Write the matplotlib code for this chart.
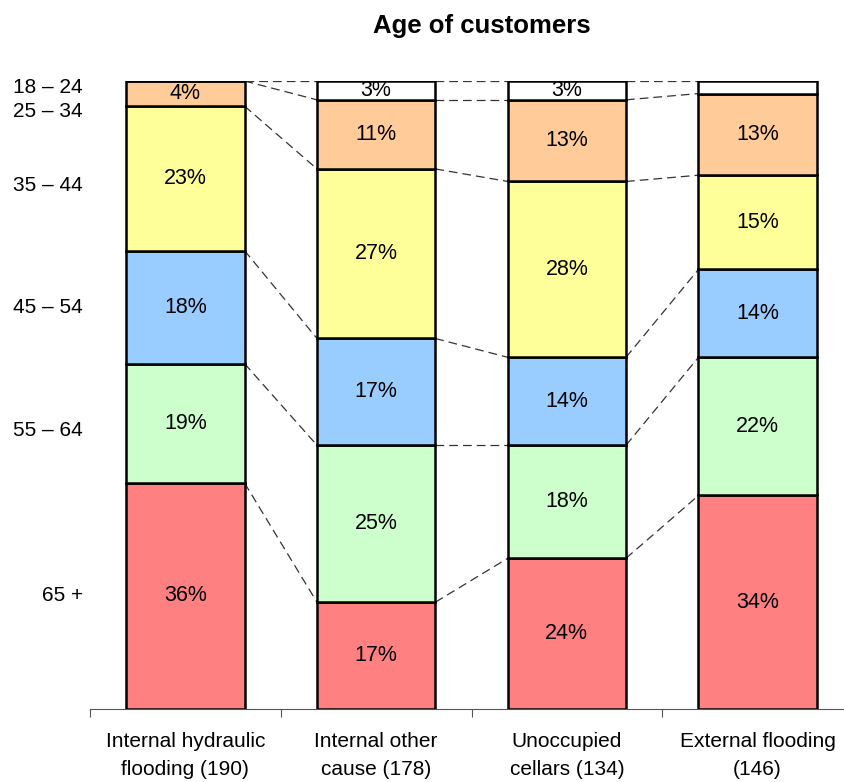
import numpy as np
import matplotlib
matplotlib.use('Agg')
import matplotlib.pyplot as plt

plt.rcParams['font.family'] = ['Liberation Sans', 'DejaVu Sans']

# data (percent of customers per age band, bottom to top)
categories = ['Internal hydraulic\nflooding (190)', 'Internal other\ncause (178)',
              'Unoccupied\ncellars (134)', 'External flooding\n(146)']
age_bands = ['65 +', '55 – 64', '45 – 54', '35 – 44', '25 – 34', '18 – 24']
band_colors = ['#FF8080', '#CCFFCC', '#99CCFF', '#FFFF99', '#FFCC99', '#FFFFFF']
shares = np.array([
    [36, 17, 24, 34],   # 65 +
    [19, 25, 18, 22],   # 55 - 64
    [18, 17, 14, 14],   # 45 - 54
    [23, 27, 28, 15],   # 35 - 44
    [4, 11, 13, 13],    # 25 - 34
    [0, 3, 3, 2],       # 18 - 24
])
# where the band names sit on the left (in % units)
band_label_y = [18.0, 44.4, 64.0, 83.4, 95.1, 99.0]

W, H = 845, 782
fig = plt.figure(figsize=(W / 100, H / 100), dpi=100)
ax = fig.add_axes([90 / W, 1 - 709 / H, 763 / W, 628 / H])

x = np.arange(len(categories))
width = 0.62
bottoms = np.zeros(len(categories))
tops_all = []
for k in range(len(age_bands)):
    vals = shares[k]
    ax.bar(x, vals, width, bottom=bottoms, color=band_colors[k],
           edgecolor='black', linewidth=1.8, zorder=3)
    for i in range(len(categories)):
        if vals[i] >= 3:
            ax.text(x[i], bottoms[i] + vals[i] / 2, '%d%%' % vals[i],
                    ha='center', va='center', fontsize=15.5, zorder=4)
    bottoms = bottoms + vals
    tops_all.append(bottoms.copy())

# series lines between bars
for tops in tops_all:
    for i in range(len(categories) - 1):
        ax.plot([x[i] + width / 2, x[i + 1] - width / 2], [tops[i], tops[i + 1]],
                color='#333333', linestyle=(0, (7, 4)), linewidth=0.9, zorder=2)

ax.set_xlim(-0.5, len(categories) - 0.5)
ax.set_ylim(0, 100)
for s in ['top', 'right', 'left']:
    ax.spines[s].set_visible(False)
ax.spines['bottom'].set_color('#555555')
ax.set_yticks([])
ax.set_xticks(np.arange(len(categories) + 1) - 0.5, minor=False)
ax.set_xticklabels([])
ax.tick_params(axis='x', length=6, color='#555555', direction='out')
for i, c in enumerate(categories):
    ax.text(x[i], -3.7, c, ha='center', va='top', fontsize=15, linespacing=1.6)

for lab, yy in zip(age_bands, band_label_y):
    ax.text(83 / W, 1 - 709 / H + yy / 100 * 628 / H, lab, transform=fig.transFigure,
            ha='right', va='center', fontsize=15)

fig.text(482 / W, 1 - 26 / H, 'Age of customers', ha='center', va='center',
         fontsize=18.5, fontweight='bold')

fig.savefig('out.png', dpi=100)
